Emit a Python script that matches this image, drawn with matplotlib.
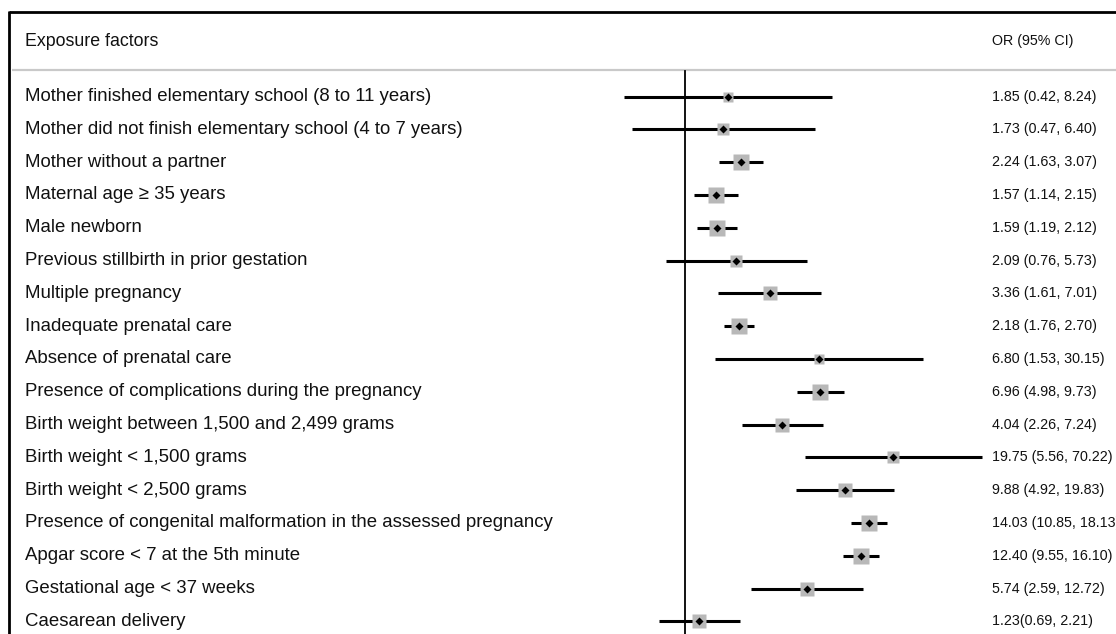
import numpy as np
import matplotlib
matplotlib.use("Agg")
import matplotlib.pyplot as plt
from matplotlib.transforms import blended_transform_factory

plt.rcParams['font.family'] = ['Liberation Sans', 'DejaVu Sans']

categories = [
    "Mother finished elementary school (8 to 11 years)",
    "Mother did not finish elementary school (4 to 7 years)",
    "Mother without a partner",
    "Maternal age \u2265 35 years",
    "Male newborn",
    "Previous stillbirth in prior gestation",
    "Multiple pregnancy",
    "Inadequate prenatal care",
    "Absence of prenatal care",
    "Presence of complications during the pregnancy",
    "Birth weight between 1,500 and 2,499 grams",
    "Birth weight < 1,500 grams",
    "Birth weight < 2,500 grams",
    "Presence of congenital malformation in the assessed pregnancy",
    "Apgar score < 7 at the 5th minute",
    "Gestational age < 37 weeks",
    "Caesarean delivery",
]
odds_ratio = [1.85, 1.73, 2.24, 1.57, 1.59, 2.09, 3.36, 2.18, 6.80, 6.96,
              4.04, 19.75, 9.88, 14.03, 12.40, 5.74, 1.23]
ci_lower = [0.42, 0.47, 1.63, 1.14, 1.19, 0.76, 1.61, 1.76, 1.53, 4.98,
            2.26, 5.56, 4.92, 10.85, 9.55, 2.59, 0.69]
ci_upper = [8.24, 6.40, 3.07, 2.15, 2.12, 5.73, 7.01, 2.70, 30.15, 9.73,
            7.24, 70.22, 19.83, 18.13, 16.10, 12.72, 2.21]
ci_text = [
    "1.85 (0.42, 8.24)", "1.73 (0.47, 6.40)", "2.24 (1.63, 3.07)",
    "1.57 (1.14, 2.15)", "1.59 (1.19, 2.12)", "2.09 (0.76, 5.73)",
    "3.36 (1.61, 7.01)", "2.18 (1.76, 2.70)", "6.80 (1.53, 30.15)",
    "6.96 (4.98, 9.73)", "4.04 (2.26, 7.24)", "19.75 (5.56, 70.22)",
    "9.88 (4.92, 19.83)", "14.03 (10.85, 18.13)", "12.40 (9.55, 16.10)",
    "5.74 (2.59, 12.72)", "1.23(0.69, 2.21)",
]
header_left = "Exposure factors"
header_right = "OR (95% CI)"

W, H = 1116, 634
fig = plt.figure(figsize=(W / 100, H / 100), dpi=100)

# background axes in pixel coordinates
bg = fig.add_axes([0, 0, 1, 1])
bg.set_xlim(0, W)
bg.set_ylim(H, 0)
bg.axis('off')

# forest axes: log scale, OR = 1 at x=685 px, 69.8 px per ln unit
px_per_ln = 69.8
x_one = 685
row0, row_step = 96.5, 32.8
ax = fig.add_axes([0, 0, 1, 1])
ax.patch.set_alpha(0)
ax.set_xscale('log')
ax.set_xlim(np.exp((0 - x_one) / px_per_ln), np.exp((W - x_one) / px_per_ln))
ax.set_ylim((H - row0) / row_step, (0 - row0) / row_step)
ax.axis('off')

# frame
bg.plot([9, W], [12, 12], color='black', lw=2.0, solid_capstyle='butt')
bg.plot([9, 9], [11, H], color='black', lw=2.0, solid_capstyle='butt')
# separator
bg.plot([12, W], [70, 70], color='#c9c9c9', lw=1.6, solid_capstyle='butt')

# headers
bg.text(25, 41, header_left, fontsize=12.8, va='center', ha='left', color='#111111')
bg.text(992, 41, header_right, fontsize=10.3, va='center', ha='left', color='#111111')

# reference line at OR = 1
ax.axvline(1.0, ymin=0, ymax=1 - 71 / H, color='black', lw=1.3)

rows = np.arange(len(categories))
lo = np.array(ci_lower)
hi = np.array(ci_upper)
orv = np.array(odds_ratio)
se = (np.log(hi) - np.log(lo)) / 3.92
box_px = np.clip(17.5 - 9 * se, 10, 16.5)

ax.hlines(rows, lo, hi, color='black', lw=2.2, zorder=2)
for r, o, b in zip(rows, orv, box_px):
    ax.plot([o], [r], marker='s', ms=b * 0.72, color='#b8b8b8', mec='none', zorder=3)
ax.plot(orv, rows, ls='none', marker='D', ms=4.2, color='black', mec='none', zorder=4)

tr = blended_transform_factory(bg.transData, ax.transData)
for r, lab, ct in zip(rows, categories, ci_text):
    ax.text(25, r, lab, transform=tr, fontsize=13.4, va='center', ha='left', color='#111111')
    ax.text(992, r, ct, transform=tr, fontsize=10.3, va='center', ha='left', color='#111111')

fig.savefig('out.png', dpi=100)
